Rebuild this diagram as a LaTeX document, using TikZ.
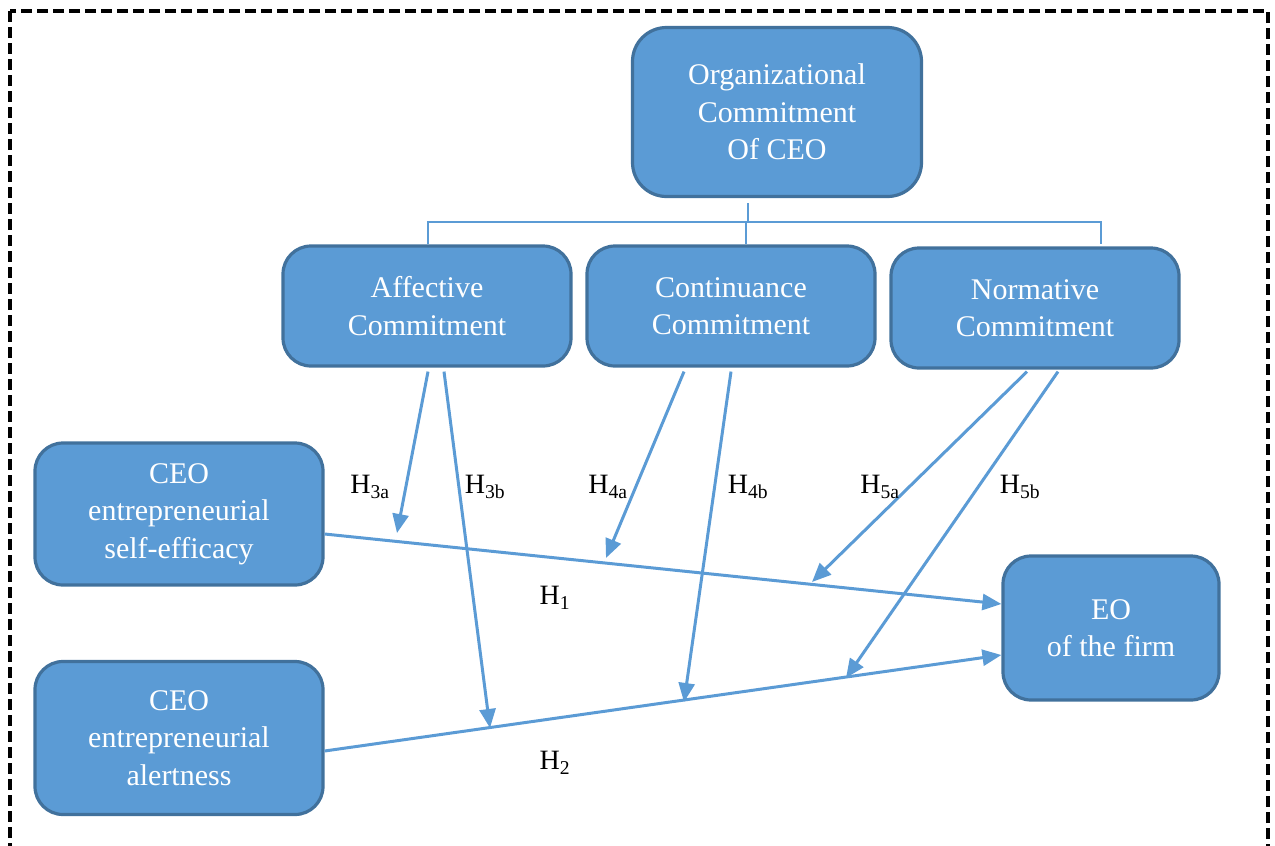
\documentclass[tikz,border=0pt]{standalone}
\usepackage{fontspec}
\setmainfont{Liberation Serif}
\usetikzlibrary{arrows.meta,positioning}
\definecolor{boxfill}{HTML}{5B9BD5}
\definecolor{boxline}{HTML}{41719C}
\begin{document}
\begin{tikzpicture}[x=1pt,y=-1pt,
    block/.style={draw=boxline,fill=boxfill,line width=3.2pt,rounded corners=28pt,
        text=white,align=center,inner sep=0pt,font=\fontsize{30}{37.5}\selectfont},
    tree/.style={draw=boxfill,line width=1.8pt},
    link/.style={draw=boxfill,line width=3pt,-{Triangle[length=19pt,width=16pt]}},
    hyp/.style={font=\fontsize{28}{34}\selectfont}]
\clip (0,0) rectangle (1275,846);
% frame
\draw[line width=3.2pt,dash pattern=on 11pt off 5pt] (10,11) rectangle (1268,900);
% boxes
\node[block,minimum width=289pt,minimum height=169pt,rounded corners=34pt] (org) at (777,112) {Organizational\\Commitment\\Of CEO};
\node[block,minimum width=288pt,minimum height=120pt] (aff) at (427,306) {Affective\\Commitment};
\node[block,minimum width=288pt,minimum height=120pt] (cont) at (731,306) {Continuance\\Commitment};
\node[block,minimum width=288pt,minimum height=120pt] (norm) at (1035,308) {Normative\\Commitment};
\node[block,minimum width=288pt,minimum height=142pt] (ses) at (179,514) {CEO\\entrepreneurial\\self-efficacy};
\node[block,minimum width=288pt,minimum height=153pt] (alert) at (179,738) {CEO\\entrepreneurial\\alertness};
\node[block,minimum width=216pt,minimum height=144pt] (eo) at (1111,628) {EO\\of the firm};
% tree
\coordinate (bus) at (0,222);
\draw[tree] ([xshift=-29pt,yshift=-5pt]org.south) -- ([xshift=-29pt]org.south |- bus);
\draw[tree] ([xshift=1pt]aff.north) |- ([xshift=66pt]norm.north |- bus) -- ([xshift=66pt,yshift=2pt]norm.north);
\draw[tree] ([xshift=15pt]cont.north) -- ([xshift=15pt]cont.north |- bus);
% main effects
\draw[link] ([yshift=-20pt]ses.east) -- ([yshift=24pt]eo.west);
\draw[link] ([yshift=-13pt]alert.east) -- ([yshift=-27pt]eo.west);
% moderators
\coordinate (m3a) at (397,533);
\coordinate (m3b) at (490,728);
\coordinate (m4a) at (606,558);
\coordinate (m4b) at (684,702);
\coordinate (m5a) at (812,582);
\coordinate (m5b) at (846,678);
\draw[link] ([xshift=1pt,yshift=-4pt]aff.south) -- (m3a);
\draw[link] ([xshift=17pt,yshift=-4pt]aff.south) -- (m3b);
\draw[link] ([xshift=-47pt,yshift=-4pt]cont.south) -- (m4a);
\draw[link] ([xshift=0pt,yshift=-4pt]cont.south) -- (m4b);
\draw[link] ([xshift=-8pt,yshift=-2pt]norm.south) -- (m5a);
\draw[link] ([xshift=23pt,yshift=-2pt]norm.south) -- (m5b);
% labels
\node[hyp] (h3a) at (370,487) {H\textsubscript{3a}};
\node[hyp] (h3b) at (485,487) {H\textsubscript{3b}};
\node[hyp] (h4a) at (608,487) {H\textsubscript{4a}};
\node[hyp] (h4b) at (748,487) {H\textsubscript{4b}};
\node[hyp] (h5a) at (880,487) {H\textsubscript{5a}};
\node[hyp] (h5b) at (1020,487) {H\textsubscript{5b}};
\node[hyp] (h1) at (555,598) {H\textsubscript{1}};
\node[hyp] (h2) at (555,763) {H\textsubscript{2}};
\end{tikzpicture}
\end{document}
